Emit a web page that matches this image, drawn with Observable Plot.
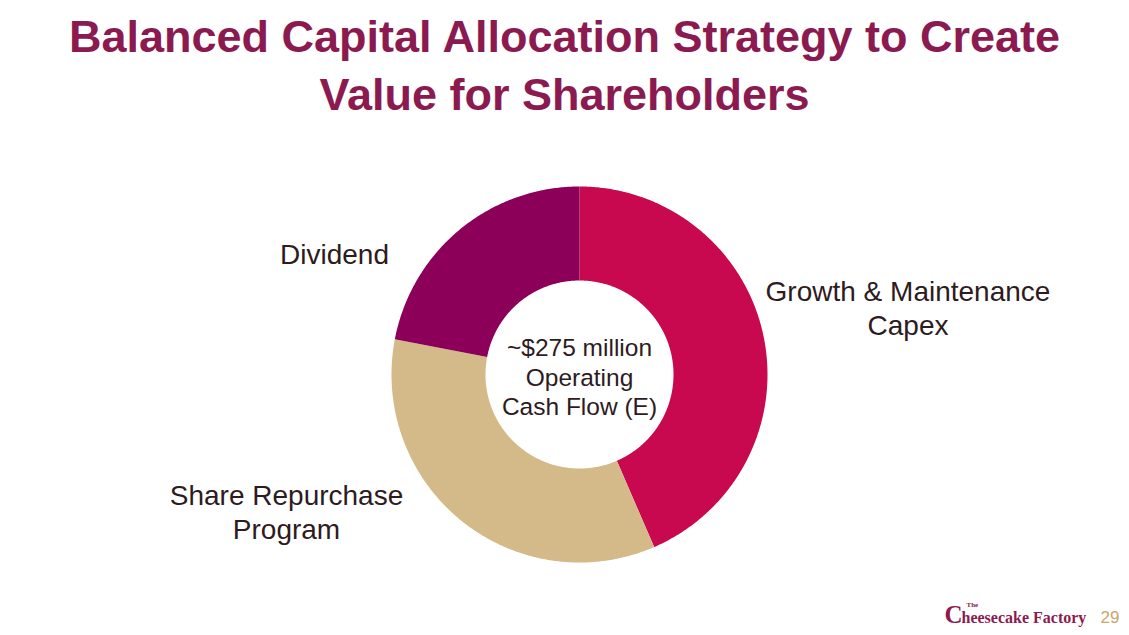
<!DOCTYPE html>
<html>
<head>
<meta charset="utf-8">
<script src="https://cdn.jsdelivr.net/npm/d3@7"></script>
<script src="https://cdn.jsdelivr.net/npm/@observablehq/plot@0.6"></script>
<style>
  html, body { margin: 0; padding: 0; background: #ffffff; }
  body { width: 1129px; height: 635px; overflow: hidden; font-family: "Liberation Sans", Arial, sans-serif; }
  #title {
    height: 130px; box-sizing: border-box; padding-top: 8px;
    text-align: center; color: #8B1A50; font-weight: bold;
    font-size: 45px; line-height: 58px; font-family: "Liberation Sans", Arial, sans-serif;
  }
  #chart svg { display: block; }
</style>
</head>
<body>
<div id="title">Balanced Capital Allocation Strategy to Create<br>Value for Shareholders</div>
<div id="chart"></div>
<script>
// ---- data ----
const categories = ["Growth & Maintenance Capex", "Share Repurchase Program", "Dividend"];
const shares = [43.5, 34.5, 22];            // % of operating cash flow (estimated)
const labels = ["Growth & Maintenance\nCapex", "Share Repurchase\nProgram", "Dividend"];
const centerLabel = "~$275 million\nOperating\nCash Flow (E)";
const colors = ["#C8094F", "#D4BA88", "#8C0059"];

// ---- layout ----
const W = 1129, H = 505;
const cx = 579, cy = 244, R = 188, innerFrac = 0.5;
const labelPx = [[907.5, 177], [286, 381], [334, 123]]; // label anchor positions (px)
const toX = px => (px - cx) / R;
const toY = py => (cy - py) / R;

// build donut slice outlines from the data
const pie = d3.pie().sort(null).value(d => d)(shares);
const pts = [];
pie.forEach((p, i) => {
  const a0 = p.startAngle, a1 = p.endAngle;
  const n = Math.max(2, Math.ceil((a1 - a0) / (Math.PI / 360)));
  for (let k = 0; k <= n; k++) {
    const a = a0 + (a1 - a0) * k / n;
    pts.push({cat: categories[i], x: Math.sin(a), y: Math.cos(a)});
  }
  for (let k = n; k >= 0; k--) {
    const a = a0 + (a1 - a0) * k / n;
    pts.push({cat: categories[i], x: innerFrac * Math.sin(a), y: innerFrac * Math.cos(a)});
  }
});

const labelData = categories.map((c, i) => ({text: labels[i], x: toX(labelPx[i][0]), y: toY(labelPx[i][1])}));
const logoFont = "Liberation Serif, serif";

const plot = Plot.plot({
  width: W, height: H,
  margin: 0,
  x: {domain: [-1, 1], range: [cx - R, cx + R], axis: null},
  y: {domain: [-1, 1], range: [cy + R, cy - R], axis: null},
  color: {domain: categories, range: colors},
  style: {background: "#ffffff", fontFamily: "Liberation Sans, Arial, sans-serif"},
  marks: [
    Plot.line(pts, {x: "x", y: "y", z: "cat", fill: "cat", stroke: "none", curve: "linear-closed"}),
    Plot.text(labelData, {x: "x", y: "y", text: "text", fontSize: 28, lineHeight: 1.2, fill: "#2D1B1E", textAnchor: "middle"}),
    Plot.text([centerLabel], {x: () => 0, y: () => toY(245.5), text: d => d, fontSize: 24.5, lineHeight: 1.22, fill: "#2D1B1E", textAnchor: "middle"}),
    Plot.text(["C"], {x: () => toX(944), y: () => toY(484), text: d => d, textAnchor: "start", fontSize: 25, fontWeight: "bold", fontFamily: logoFont, fill: "#8B1A50"}),
    Plot.text(["heesecake Factory"], {x: () => toX(961), y: () => toY(487), text: d => d, textAnchor: "start", fontSize: 16, fontWeight: "bold", fontFamily: logoFont, fill: "#8B1A50"}),
    Plot.text(["The"], {x: () => toX(966), y: () => toY(474), text: d => d, textAnchor: "start", fontSize: 7, fontWeight: "bold", fontFamily: logoFont, fill: "#8B1A50"}),
    Plot.text(["29"], {x: () => toX(1100), y: () => toY(487), text: d => d, textAnchor: "start", fontSize: 17, fill: "#C9A56C"})
  ]
});
document.getElementById("chart").appendChild(plot);
</script>
</body>
</html>
